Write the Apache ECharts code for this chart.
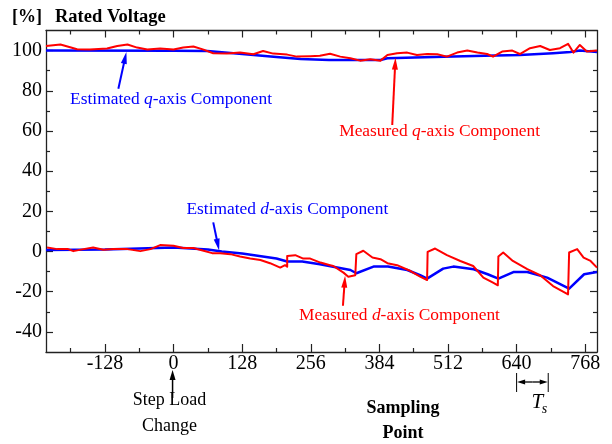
<!DOCTYPE html>
<html>
<head>
<meta charset="utf-8">
<script src="https://cdn.jsdelivr.net/npm/echarts@6/dist/echarts.min.js"></script>
<style>
  html, body { margin: 0; padding: 0; background: #fff; }
  #chart { width: 612px; height: 444px; }
</style>
</head>
<body>
<div id="chart"></div>
<script>
// Axis ranges and tick positions
const xMin = -238, xMax = 790, yMin = -50, yMax = 110;
const xMajorTicks = [-128, 0, 128, 256, 384, 512, 640, 768];
const xMinorTicks = [-192, -64, 64, 192, 320, 448, 576, 704];
const yMajorTicks = [-40, -20, 0, 20, 40, 60, 80, 100];
const yMinorTicks = [-30, -10, 10, 30, 50, 70, 90];

// Estimated q-axis component [%]
const qEstX = [-238, 0, 63, 128, 192, 237, 290, 386, 399, 450, 522, 580, 646, 708, 740, 758, 790];
const qEstY = [100, 99.9, 99.8, 98.3, 96.8, 95.8, 95.3, 95.3, 96.2, 96.6, 97.0, 97.4, 97.8, 98.7, 99.3, 100, 99.3];

// Measured q-axis component [%]
const qMeasX = [-238, -211, -193, -180, -156, -124, -105, -86, -68, -49, -25, 0, 18, 37, 56, 74, 100, 124, 149, 167, 186, 212, 230, 255, 273, 292, 311, 330, 348, 367, 386, 399, 417, 436, 454, 473, 492, 510, 529, 548, 567, 585, 596, 613, 632, 646, 665, 684, 702, 721, 736, 746, 758, 771, 790];
const qMeasY = [102.3, 103, 101.7, 100.7, 100.5, 101, 102.3, 103, 101.5, 100.5, 101, 100.5, 101.5, 102, 100.5, 98.7, 98.5, 99, 98.2, 99.8, 98.5, 98, 97, 97.2, 97.4, 98.4, 97, 96.2, 95, 95.7, 95, 97.8, 98.7, 99, 97.8, 98.3, 98.2, 97, 99, 100, 99, 98.3, 97, 99.5, 100, 98.3, 101.2, 102.3, 100.3, 101.2, 103.4, 99, 102.8, 99.5, 100];

// Estimated d-axis component [%]
const dEstX = [-238, -128, 0, 64, 90, 128, 192, 212, 240, 273, 330, 341, 373, 400, 436, 460, 473, 503, 522, 560, 586, 606, 634, 660, 697, 738, 766, 790];
const dEstY = [0.8, 1.0, 2.0, 1.0, 0, -1.0, -3.5, -5.0, -5.0, -6.3, -9.2, -10.8, -7.5, -7.5, -9.2, -11.8, -13.5, -8.5, -7.5, -8.8, -11.3, -13.5, -10.2, -10.2, -13, -18.5, -11.3, -10.2];

// Measured d-axis component [%]
const dMeasX = [-236, -217, -198, -187, -168, -150, -131, -112, -86, -62, -43, -25, 0, 18, 37, 56, 72, 87, 106, 124, 143, 162, 180, 199, 208, 212, 212, 227, 242, 255, 274, 292, 298, 317, 326, 339, 341, 341, 354, 371, 386, 399, 417, 442, 460, 473, 474, 488, 510, 535, 559, 578, 596, 605, 606, 615, 633, 660, 684, 708, 736, 738, 753, 765, 778, 790];
const dMeasY = [2, 1.2, 1.3, 0.2, 1.2, 2, 0.9, 1.2, 1.2, 0.2, 1.2, 3.2, 2.9, 1.8, 1.8, 0.4, -0.8, -0.8, -1.3, -2.5, -3.5, -4.2, -5.8, -8, -6.8, -7.5, -2.2, -1.8, -3.5, -3.5, -5.5, -6.8, -7.2, -10.5, -12.5, -11.8, -12, -1.3, 0.4, -3, -3.8, -5.8, -6.8, -9.7, -12.5, -14.2, -0.2, 1.5, -1.8, -4.7, -7.2, -13, -15.5, -16.8, -2.5, -0.5, -4.7, -8.8, -11.8, -17.2, -21.3, -0.5, 1.2, -3, -4.7, -8];

const SERIF = "'Liberation Serif', 'Times New Roman', serif";
const RED = '#ff0000';
const BLUE = '#0000ff';
const AXIS = '#222222';

const pairs = (xs, ys) => xs.map((x, i) => [x, ys[i]]);

const chart = echarts.init(document.getElementById('chart'), null, { renderer: 'canvas' });

function xAxisDef(position, ticks, len, showLine, showLabels) {
  return {
    type: 'value', position: position, min: xMin, max: xMax,
    axisLine: { show: showLine, onZero: false, lineStyle: { color: AXIS, width: 1.3 } },
    axisTick: { show: true, inside: true, length: len, customValues: ticks, lineStyle: { color: AXIS, width: 1.2 } },
    axisLabel: showLabels
      ? { show: true, customValues: ticks, margin: 2, color: '#000', fontFamily: SERIF, fontSize: 20 }
      : { show: false },
    splitLine: { show: false }
  };
}
function yAxisDef(position, ticks, len, showLine, showLabels) {
  return {
    type: 'value', position: position, min: yMin, max: yMax,
    axisLine: { show: showLine, onZero: false, lineStyle: { color: AXIS, width: 1.3 } },
    axisTick: { show: true, inside: true, length: len, customValues: ticks, lineStyle: { color: AXIS, width: 1.2 } },
    axisLabel: showLabels
      ? { show: true, customValues: ticks, margin: 4, color: '#000', fontFamily: SERIF, fontSize: 20 }
      : { show: false },
    splitLine: { show: false }
  };
}

function lineSeries(name, data, color, width) {
  return {
    name: name, type: 'line', data: data, xAxisIndex: 0, yAxisIndex: 0,
    showSymbol: false, symbol: 'none', silent: true, animation: false,
    lineStyle: { color: color, width: width, join: 'round' }
  };
}

chart.setOption({
  animation: false,
  grid: { left: 46, right: 15, top: 30.5, bottom: 92, containLabel: false },
  xAxis: [
    xAxisDef('bottom', xMajorTicks, 8, true, true),
    xAxisDef('bottom', xMinorTicks, 4, false, false),
    xAxisDef('top', xMajorTicks, 7, true, false),
    xAxisDef('top', xMinorTicks, 4, false, false)
  ],
  yAxis: [
    yAxisDef('left', yMajorTicks, 7, true, true),
    yAxisDef('left', yMinorTicks, 4, false, false),
    yAxisDef('right', yMajorTicks, 7, true, false),
    yAxisDef('right', yMinorTicks, 4, false, false)
  ],
  series: [
    lineSeries('Estimated q', pairs(qEstX, qEstY), BLUE, 2.5),
    lineSeries('Measured q', pairs(qMeasX, qMeasY), RED, 2),
    lineSeries('Estimated d', pairs(dEstX, dEstY), BLUE, 2.5),
    lineSeries('Measured d', pairs(dMeasX, dMeasY), RED, 2)
  ]
});

// ---- annotations ----
const px = (x, y) => chart.convertToPixel({ gridIndex: 0 }, [x, y]);

function arrow(p1, p2, color, head, width) {
  const dx = p2[0] - p1[0], dy = p2[1] - p1[1];
  const L = Math.sqrt(dx * dx + dy * dy);
  const ux = dx / L, uy = dy / L;
  const hl = head[0], hw = head[1];
  const bx = p2[0] - ux * hl, by = p2[1] - uy * hl;
  return [
    { type: 'line', silent: true, z: 100,
      shape: { x1: p1[0], y1: p1[1], x2: bx + ux * 1, y2: by + uy * 1 },
      style: { stroke: color, lineWidth: width } },
    { type: 'polygon', silent: true, z: 100,
      shape: { points: [[p2[0], p2[1]], [bx - uy * hw, by + ux * hw], [bx + uy * hw, by - ux * hw]] },
      style: { fill: color } }
  ];
}

function richLabel(left, top, pre, ital, post, color) {
  const base = { fontFamily: SERIF, fontSize: 17.4, fill: color };
  return {
    type: 'text', silent: true, z: 100, x: left, y: top,
    style: {
      text: '{n|' + pre + '}{i|' + ital + '}{n|' + post + '}',
      verticalAlign: 'middle', align: 'left',
      rich: {
        n: Object.assign({}, base),
        i: Object.assign({ fontStyle: 'italic' }, base)
      }
    }
  };
}

function plainText(x, y, text, opts) {
  return {
    type: 'text', silent: true, z: 100, x: x, y: y,
    style: Object.assign({
      text: text, fontFamily: SERIF, fontSize: 18, fill: '#000',
      align: 'center', verticalAlign: 'middle'
    }, opts || {})
  };
}

const g = [];
// Estimated q-axis
let p = px(-193, 75.8);
g.push(richLabel(p[0], p[1], 'Estimated ', 'q', '-axis Component', BLUE));
g.push(...arrow(px(-103, 81), px(-88, 99.3), BLUE, [12, 3], 2));
// Measured q-axis
p = px(309, 59.8);
g.push(richLabel(p[0], p[1], 'Measured ', 'q', '-axis Component', RED));
g.push(...arrow(px(408, 63), px(414, 96.5), RED, [12, 3], 2));
// Estimated d-axis
p = px(24, 20.8);
g.push(richLabel(p[0], p[1], 'Estimated ', 'd', '-axis Component', BLUE));
g.push(...arrow(px(74, 14.5), px(85, 0.5), BLUE, [12, 3], 2));
// Measured d-axis
p = px(234, -31.7);
g.push(richLabel(p[0], p[1], 'Measured ', 'd', '-axis Component', RED));
g.push(...arrow(px(316, -27), px(320, -12), RED, [12, 3], 2));

// Axis titles
g.push(plainText(12, 17, '[%]', { fontWeight: 'bold', align: 'left' }));
g.push(plainText(55, 17, 'Rated Voltage', { fontWeight: 'bold', align: 'left', fontSize: 18.5 }));

// Step load marker below the x axis
const x0 = px(0, 0)[0];
g.push(...arrow([x0 - 1, 398], [x0 - 1, 370], '#000', [10, 3], 1.5));
g.push(plainText(x0 - 4, 400, 'Step Load'));
g.push(plainText(x0 - 4, 426, 'Change'));

// Sampling Point title
const xs = px(428, 0)[0];
g.push(plainText(xs, 408, 'Sampling', { fontWeight: 'bold' }));
g.push(plainText(xs, 433, 'Point', { fontWeight: 'bold' }));

// T_s span marker
const ta = px(640, 0)[0], tb = px(699, 0)[0];
g.push({ type: 'line', silent: true, z: 100, shape: { x1: ta, y1: 373, x2: ta, y2: 392 }, style: { stroke: '#000', lineWidth: 1 } });
g.push({ type: 'line', silent: true, z: 100, shape: { x1: tb, y1: 373, x2: tb, y2: 392 }, style: { stroke: '#000', lineWidth: 1 } });
const tm = (ta + tb) / 2;
g.push(...arrow([tm, 382], [ta + 0.5, 382], '#000', [8, 2.5], 1.3));
g.push(...arrow([tm, 382], [tb - 0.5, 382], '#000', [8, 2.5], 1.3));
g.push(plainText(tm + 5, 402, 'T', { fontStyle: 'italic', fontSize: 21 }));
g.push(plainText(tm + 12, 409, 's', { fontStyle: 'italic', fontSize: 14 }));

chart.setOption({ graphic: g });
</script>
</body>
</html>
